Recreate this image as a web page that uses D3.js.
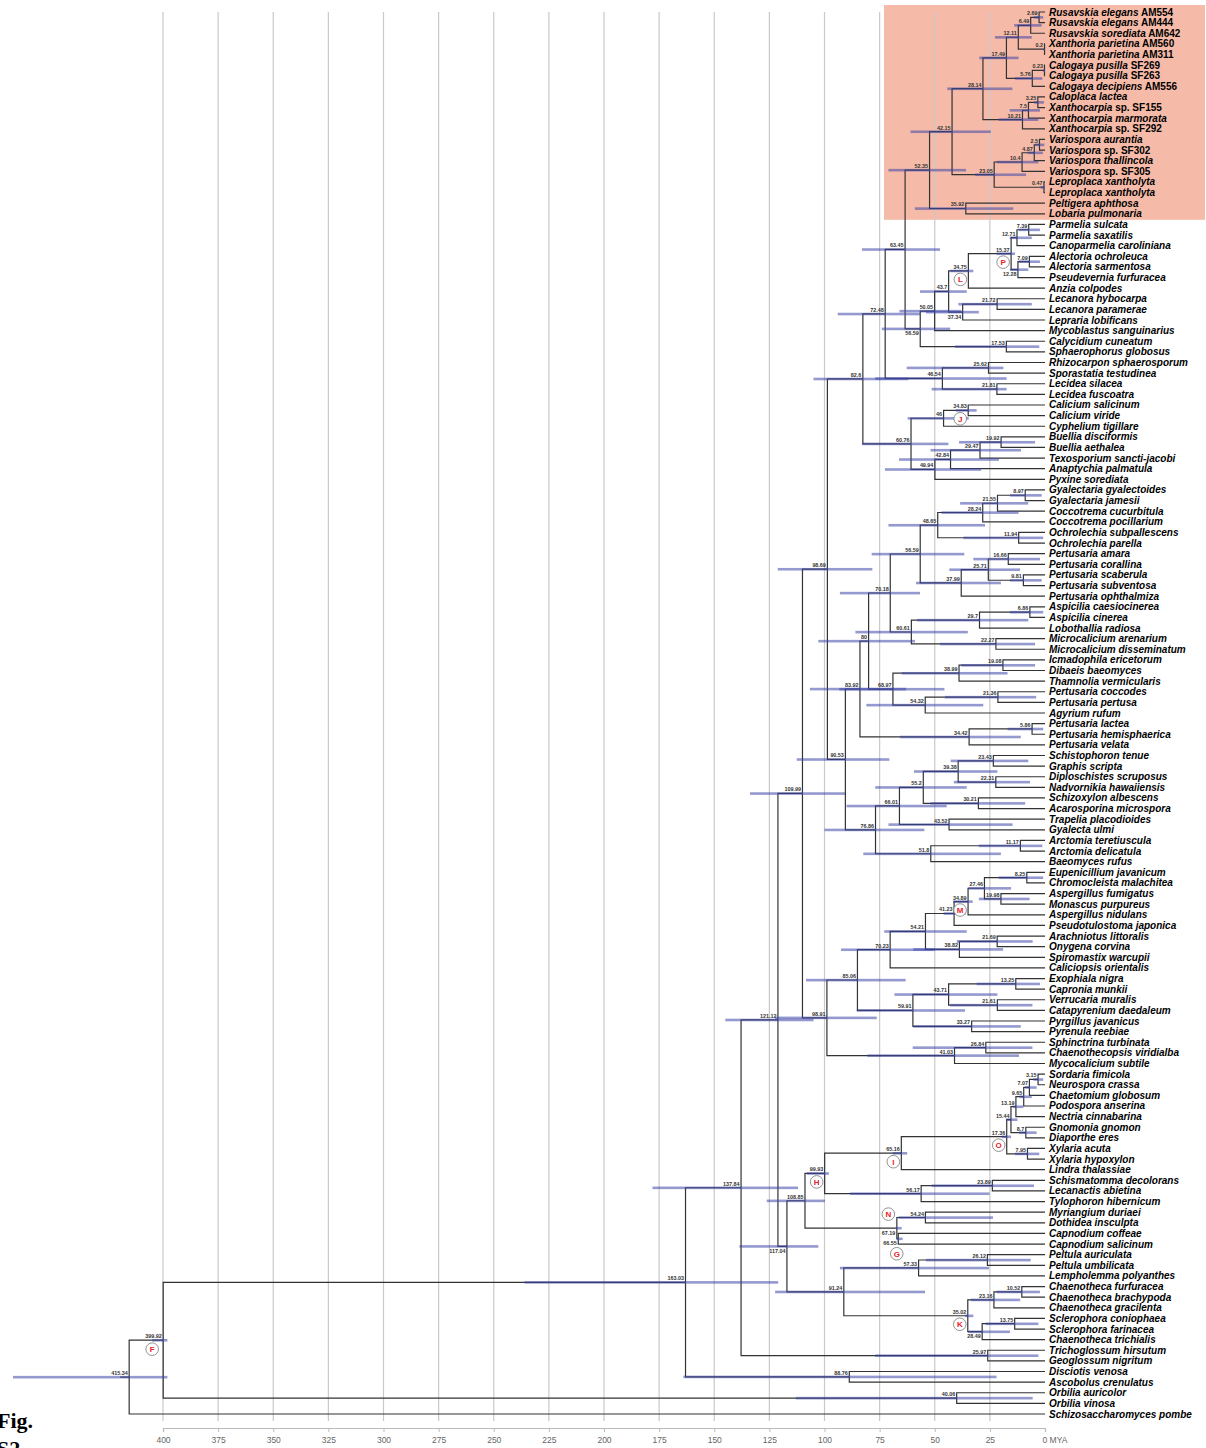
<!DOCTYPE html>
<html>
<head>
<meta charset="utf-8">
<script src="https://cdn.jsdelivr.net/npm/d3@7"></script>
<style>
  body { margin: 0; background: #fff; }
  svg { display: block; }
</style>
</head>
<body>
<script>
// tip labels, top to bottom
const tipNames = [
  "Rusavskia elegans AM554", "Rusavskia elegans AM444", "Rusavskia sorediata AM642",
  "Xanthoria parietina AM560", "Xanthoria parietina AM311", "Calogaya pusilla SF269",
  "Calogaya pusilla SF263", "Calogaya decipiens AM556", "Caloplaca lactea",
  "Xanthocarpia sp. SF155", "Xanthocarpia marmorata", "Xanthocarpia sp. SF292",
  "Variospora aurantia", "Variospora sp. SF302", "Variospora thallincola",
  "Variospora sp. SF305", "Leproplaca xantholyta", "Leproplaca xantholyta",
  "Peltigera aphthosa", "Lobaria pulmonaria", "Parmelia sulcata", "Parmelia saxatilis",
  "Canoparmelia caroliniana", "Alectoria ochroleuca", "Alectoria sarmentosa",
  "Pseudevernia furfuracea", "Anzia colpodes", "Lecanora hybocarpa", "Lecanora paramerae",
  "Lepraria lobificans", "Mycoblastus sanguinarius", "Calycidium cuneatum",
  "Sphaerophorus globosus", "Rhizocarpon sphaerosporum", "Sporastatia testudinea",
  "Lecidea silacea", "Lecidea fuscoatra", "Calicium salicinum", "Calicium viride",
  "Cyphelium tigillare", "Buellia disciformis", "Buellia aethalea",
  "Texosporium sancti-jacobi", "Anaptychia palmatula", "Pyxine sorediata",
  "Gyalectaria gyalectoides", "Gyalectaria jamesii", "Coccotrema cucurbitula",
  "Coccotrema pocillarium", "Ochrolechia subpallescens", "Ochrolechia parella",
  "Pertusaria amara", "Pertusaria corallina", "Pertusaria scaberula",
  "Pertusaria subventosa", "Pertusaria ophthalmiza", "Aspicilia caesiocinerea",
  "Aspicilia cinerea", "Lobothallia radiosa", "Microcalicium arenarium",
  "Microcalicium disseminatum", "Icmadophila ericetorum", "Dibaeis baeomyces",
  "Thamnolia vermicularis", "Pertusaria coccodes", "Pertusaria pertusa", "Agyrium rufum",
  "Pertusaria lactea", "Pertusaria hemisphaerica", "Pertusaria velata",
  "Schistophoron tenue", "Graphis scripta", "Diploschistes scruposus",
  "Nadvornikia hawaiiensis", "Schizoxylon albescens", "Acarosporina microspora",
  "Trapelia placodioides", "Gyalecta ulmi", "Arctomia teretiuscula", "Arctomia delicatula",
  "Baeomyces rufus", "Eupenicillium javanicum", "Chromocleista malachitea",
  "Aspergillus fumigatus", "Monascus purpureus", "Aspergillus nidulans",
  "Pseudotulostoma japonica", "Arachniotus littoralis", "Onygena corvina",
  "Spiromastix warcupii", "Caliciopsis orientalis", "Exophiala nigra", "Capronia munkii",
  "Verrucaria muralis", "Catapyrenium daedaleum", "Pyrgillus javanicus", "Pyrenula reebiae",
  "Sphinctrina turbinata", "Chaenothecopsis viridialba", "Mycocalicium subtile",
  "Sordaria fimicola", "Neurospora crassa", "Chaetomium globosum", "Podospora anserina",
  "Nectria cinnabarina", "Gnomonia gnomon", "Diaporthe eres", "Xylaria acuta",
  "Xylaria hypoxylon", "Lindra thalassiae", "Schismatomma decolorans",
  "Lecanactis abietina", "Tylophoron hibernicum", "Myriangium duriaei",
  "Dothidea insculpta", "Capnodium coffeae", "Capnodium salicinum", "Peltula auriculata",
  "Peltula umbilicata", "Lempholemma polyanthes", "Chaenotheca furfuracea",
  "Chaenotheca brachypoda", "Chaenotheca gracilenta", "Sclerophora coniophaea",
  "Sclerophora farinacea", "Chaenotheca trichialis", "Trichoglossum hirsutum",
  "Geoglossum nigritum", "Disciotis venosa", "Ascobolus crenulatus", "Orbilia auricolor",
  "Orbilia vinosa", "Schizosaccharomyces pombe"
];

// internal nodes: [age label, child, child, 95% HPD low, 95% HPD high]
// a child is a tip index or the label of another node
const clades = [
  ["2.69", 0, 1, 0.8, 5], ["6.49", "2.69", 2, 1.5, 14], ["0.2", 3, 4, 0, 0.8],
  ["12.11", "6.49", "0.2", 6, 22.7], ["0.23", 5, 6, 0, 1], ["5.76", "0.23", 7, 1.2, 13.6],
  ["17.49", "12.11", "5.76", 12, 29.8], ["3.25", 8, 9, 0.5, 5], ["7.5", "3.25", 10, 2.3, 16],
  ["10.21", "7.5", 11, 3, 21], ["28.14", "17.49", "10.21", 14.8, 44.3],
  ["2.5", 12, 13, 0.3, 4.5], ["4.87", "2.5", 14, 1, 8], ["10.4", "4.87", 15, 3, 22],
  ["0.47", 16, 17, 0.1, 2], ["23.05", "10.4", "0.47", 8.6, 31.7],
  ["42.15", "28.14", "23.05", 24.6, 61], ["35.92", 18, 19, 14.4, 59],
  ["52.35", "42.15", "35.92", 35.8, 71],
  ["7.39", 20, 21, 2.3, 12], ["12.71", "7.39", 22, 6, 16], ["7.09", 23, 24, 2.3, 12],
  ["12.28", "7.09", 25, 7.6, 15.9], ["15.37", "12.71", "12.28", 13.6, 22],
  ["34.75", "15.37", 26, 32.5, 43], ["21.72", 27, 28, 6, 39.3],
  ["37.34", "21.72", 29, 30, 54], ["43.7", "34.75", "37.34", 35.5, 56.7],
  ["50.05", "43.7", 30, 38, 66], ["17.53", 31, 32, 2.6, 40.8],
  ["56.59", "50.05", "17.53", 43, 74], ["63.45", "52.35", "56.59", 47.6, 83],
  ["25.62", 33, 34, 18.9, 62.7], ["21.81", 35, 36, 17.4, 51.4],
  ["46.54", "25.62", "21.81", 17.4, 77], ["72.48", "63.45", "46.54", 56.7, 94],
  ["34.83", 37, 38, 31, 40.5], ["46", "34.83", 39, 34.6, 62.3],
  ["19.92", 40, 41, 4.5, 39], ["29.47", "19.92", 42, 10.9, 51.9],
  ["42.84", "29.47", 43, 20.9, 66.2], ["49.94", "42.84", 44, 29, 72.6],
  ["60.76", "46", "49.94", 43.8, 83], ["82.6", "72.48", "60.76", 62, 105],
  ["8.97", 45, 46, 1.5, 15.9], ["21.55", "8.97", 47, 7.6, 38.5],
  ["28.24", "21.55", 48, 12, 47], ["11.94", 49, 50, 0.8, 37],
  ["48.65", "28.24", "11.94", 27.2, 71], ["16.66", 51, 52, 2.3, 32.5],
  ["9.81", 53, 54, 1.5, 15.9], ["25.71", "16.66", "9.81", 11.3, 43.4],
  ["37.99", "25.71", 55, 20, 58.5], ["56.59b", "48.65", "37.99", 36.6, 78.6],
  ["6.86", 56, 57, 0.8, 15.9], ["29.7", "6.86", 58, 7.6, 58],
  ["22.27", 59, 60, 4.5, 47.6], ["60.61", "29.7", "22.27", 35, 86],
  ["70.18", "56.59b", "60.61", 56.7, 93], ["19.08", 61, 62, 4.5, 38],
  ["38.99", "19.08", 63, 17, 65], ["21.36", 64, 65, 4, 45.4],
  ["54.32", "21.36", 66, 28, 81], ["68.97", "38.99", "54.32", 45.6, 93.3],
  ["80", "70.18", "68.97", 59, 102.8], ["5.86", 67, 68, 0.8, 17],
  ["34.42", "5.86", 69, 11, 65.8], ["83.92", "80", "34.42", 63, 106.6],
  ["23.43", 70, 71, 7.6, 42.8], ["22.31", 72, 73, 6.8, 41.3],
  ["39.38", "23.43", "22.31", 21.6, 59.4], ["30.21", 74, 75, 9, 52],
  ["55.2", "39.38", "30.21", 35.5, 77], ["43.52", 76, 77, 14.7, 71],
  ["66.01", "55.2", "43.52", 44.6, 90], ["11.17", 78, 79, 1.2, 30],
  ["51.8", "11.17", 80, 20, 82.4], ["76.86", "66.01", "51.8", 54.7, 100],
  ["90.53", "83.92", "76.86", 70.6, 112.6], ["98.69", "82.6", "90.53", 78.3, 121.2],
  ["8.25", 81, 82, 0.8, 20.9], ["19.98", 83, 84, 7, 30],
  ["27.46", "8.25", "19.98", 15.4, 34.8], ["34.89", "27.46", 85, 32.8, 41.6],
  ["41.23", "34.89", 86, 36, 46], ["21.69", 87, 88, 5.6, 40],
  ["38.82", "21.69", 89, 19, 59.7], ["54.21", "41.23", "38.82", 35.5, 72.9],
  ["70.23", "54.21", 90, 50, 92.5], ["13.25", 91, 92, 2.3, 31],
  ["21.61", 93, 94, 5.7, 43], ["43.71", "13.25", "21.61", 21.6, 68.3],
  ["33.27", 95, 96, 11, 59.7], ["59.91", "43.71", "33.27", 36.3, 85.4],
  ["85.06", "70.23", "59.91", 63.2, 108.4], ["26.84", 97, 98, 5.7, 60],
  ["41.03", "26.84", 99, 11.8, 80.6], ["98.91", "85.06", "41.03", 76.3, 122.4],
  ["109.99", "98.69", "98.91", 90.7, 133.8],
  ["3.15", 100, 101, 0.8, 5.3], ["7.07", "3.15", 102, 3.8, 9],
  ["9.65", "7.07", 103, 6, 11.6], ["13.19", "9.65", 104, 9.8, 14.4],
  ["8.7", 105, 106, 3.8, 11.8], ["15.44", "13.19", "8.7", 12.5, 17.7],
  ["7.95", 107, 108, 2.6, 13.6], ["17.36", "15.44", "7.95", 15.4, 19.7],
  ["65.16", "17.36", 109, 62.5, 69.1], ["23.89", 110, 111, 5, 51.4],
  ["56.17", "23.89", 112, 25.2, 88.4], ["99.93", "65.16", "56.17", 98, 108],
  ["54.24", 113, 114, 23.6, 66.5], ["66.55", 115, 116, 64.6, 67.3],
  ["67.19", "54.24", "66.55", 65, 67.5], ["108.85", "99.93", "67.19", 99.8, 126.2],
  ["26.12", 117, 118, 6.5, 54], ["57.33", "26.12", 119, 25.4, 93],
  ["10.52", 120, 121, 2.3, 22], ["23.16", "10.52", 122, 11.3, 33.6],
  ["13.75", 123, 124, 3, 27], ["28.49", "13.75", 125, 15.9, 34.8],
  ["35.02", "23.16", "28.49", 32.5, 36.3], ["91.24", "57.33", "35.02", 54.4, 122.4],
  ["117.04", "108.85", "91.24", 102.8, 138.6], ["121.12", "109.99", "117.04", 105, 145],
  ["25.97", 126, 127, 3, 77], ["137.84", "121.12", "25.97", 112, 178],
  ["88.76", 128, 129, 22, 164], ["163.03", "137.84", "88.76", 121, 236],
  ["40.06", 130, 131, 5.6, 113], ["399.92", "163.03", "40.06", 398, 405],
  ["415.34", "399.92", 132, 398, 468]
];

// node ages printed under their branch instead of above it
const belowLabels = ["12.28", "37.34", "56.59", "117.04", "67.19", "66.55", "28.49"];

// circled calibration letters and the node they sit on
const markers = [
  ["F", "399.92"], ["L", "34.75"], ["P", "15.37"], ["J", "34.83"], ["M", "34.89"],
  ["O", "17.36"], ["I", "65.16"], ["H", "99.93"], ["N", "67.19"], ["G", "66.55"], ["K", "35.02"]
];

// clade shaded in the figure (tips 0..19)
const highlightTips = [0, 19];

const axisTicks = d3.range(400, 0, -25);

const W = 1206, H = 1448;
const x = d3.scaleLinear().domain([400, 0]).range([163, 1045]);
const yTip = d3.scaleLinear().domain([0, tipNames.length - 1]).range([12, 1414]);

const svg = d3.select("body").append("svg")
  .attr("width", W).attr("height", H)
  .style("font-family", "'Liberation Sans', Arial, Helvetica, sans-serif");

// build the tree
const byId = new Map(clades.map(c => [c[0], c]));
function build(ref) {
  if (typeof ref === "number") return {name: tipNames[ref], index: ref, age: 0};
  const c = byId.get(ref);
  return {id: ref, age: parseFloat(ref), lo: c[3], hi: c[4], children: [build(c[1]), build(c[2])]};
}
const root = d3.hierarchy(build("415.34"));
root.eachAfter(d => {
  d.px = x(d.data.age);
  d.py = d.children
    ? (d.children[0].py + d.children[1].py) / 2
    : yTip(d.data.index);
});
const nodeById = new Map();
root.each(d => { if (d.data.id) nodeById.set(d.data.id, d); });

// shaded clade
const hy0 = yTip(highlightTips[0]) - 7, hy1 = yTip(highlightTips[1]) + 6;
svg.append("rect")
  .attr("x", 884).attr("y", hy0)
  .attr("width", W - 884 - 1).attr("height", hy1 - hy0)
  .attr("fill", "#f6bba8");

// grid lines
svg.append("g").selectAll("line")
  .data(axisTicks)
  .join("line")
  .attr("x1", d => x(d)).attr("x2", d => x(d))
  .attr("y1", 12).attr("y2", 1421)
  .attr("stroke", "#c9c9c9").attr("stroke-width", 1.2);

// axis
const axis = svg.append("g")
  .attr("transform", "translate(0,1428)")
  .call(d3.axisBottom(x).tickValues(d3.range(400, -1, -25)).tickSize(4).tickPadding(5)
    .tickFormat(d => d === 0 ? "0 MYA" : d));
axis.select(".domain").attr("stroke", "#bbb").attr("stroke-width", 1.2);
axis.selectAll(".tick line").attr("stroke", "#bbb");
axis.selectAll(".tick text").attr("fill", "#666").style("font-size", "8.5px")
  .style("font-family", "'Liberation Sans', Arial, sans-serif");
axis.selectAll(".tick text").filter(d => d === 0).attr("text-anchor", "start").attr("dx", -3);

// branches
const branches = svg.append("g")
  .attr("fill", "none").attr("stroke", "#333").attr("stroke-width", 1.2);
branches.selectAll("path")
  .data(root.links())
  .join("path")
  .attr("d", l => `M${l.source.px},${l.source.py}V${l.target.py}H${l.target.px}`);
branches.append("path")
  .attr("d", `M${root.px - 9},${root.py}H${root.px}`);

// 95% HPD bars
svg.append("g").selectAll("rect")
  .data(root.descendants().filter(d => d.children))
  .join("rect")
  .attr("x", d => x(d.data.hi))
  .attr("width", d => Math.max(1.5, x(d.data.lo) - x(d.data.hi)))
  .attr("y", d => d.py - 1.2)
  .attr("height", 2.6)
  .attr("fill", "#3c46a8")
  .attr("fill-opacity", 0.55);

// node age labels
svg.append("g").selectAll("text")
  .data(root.descendants().filter(d => d.children))
  .join("text")
  .attr("x", d => d.px - 1.5)
  .attr("y", d => belowLabels.includes(d.data.id) ? d.py + 6.5 : d.py - 2)
  .attr("text-anchor", "end")
  .attr("fill", "#333")
  .style("font-size", "5.4px").style("font-weight", "bold")
  .text(d => d.data.id.replace(/[a-z]$/, ""));

// circled letters
const offsets = {N: [-8.5, -14], G: [-1.5, 15], F: [-11, 9]};
const mk = svg.append("g").selectAll("g")
  .data(markers)
  .join("g")
  .attr("transform", m => {
    const n = nodeById.get(m[1]);
    const o = offsets[m[0]] || [-8, 8.5];
    return `translate(${n.px + o[0]},${n.py + o[1]})`;
  });
mk.append("circle").attr("r", 6.3).attr("fill", "#fff").attr("stroke", "#777").attr("stroke-width", 0.8);
mk.append("text")
  .attr("text-anchor", "middle").attr("dy", "0.36em")
  .attr("fill", "#e8232a").style("font-size", "8px").style("font-weight", "bold")
  .text(m => m[0]);

// tip labels: genus and epithet in italics, codes upright
const tips = svg.append("g").selectAll("text")
  .data(root.leaves())
  .join("text")
  .attr("x", 1049)
  .attr("y", d => d.py + 3.5)
  .style("font-size", "10px").style("font-weight", "bold");
tips.each(function(d) {
  const w = d.data.name.split(" ");
  const nItal = w[1] === "sp." ? 1 : Math.min(2, w.length);
  const t = d3.select(this);
  t.append("tspan").style("font-style", "italic").text(w.slice(0, nItal).join(" "));
  if (w.length > nItal) t.append("tspan").text(" " + w.slice(nItal).join(" "));
});

// figure caption
svg.append("text").attr("x", -3).attr("y", 1428)
  .style("font-family", "'Liberation Serif', 'Times New Roman', serif")
  .style("font-size", "22px").style("font-weight", "bold").text("Fig.");
svg.append("text").attr("x", -3).attr("y", 1456)
  .style("font-family", "'Liberation Serif', 'Times New Roman', serif")
  .style("font-size", "22px").style("font-weight", "bold").text("S2");
</script>
</body>
</html>
